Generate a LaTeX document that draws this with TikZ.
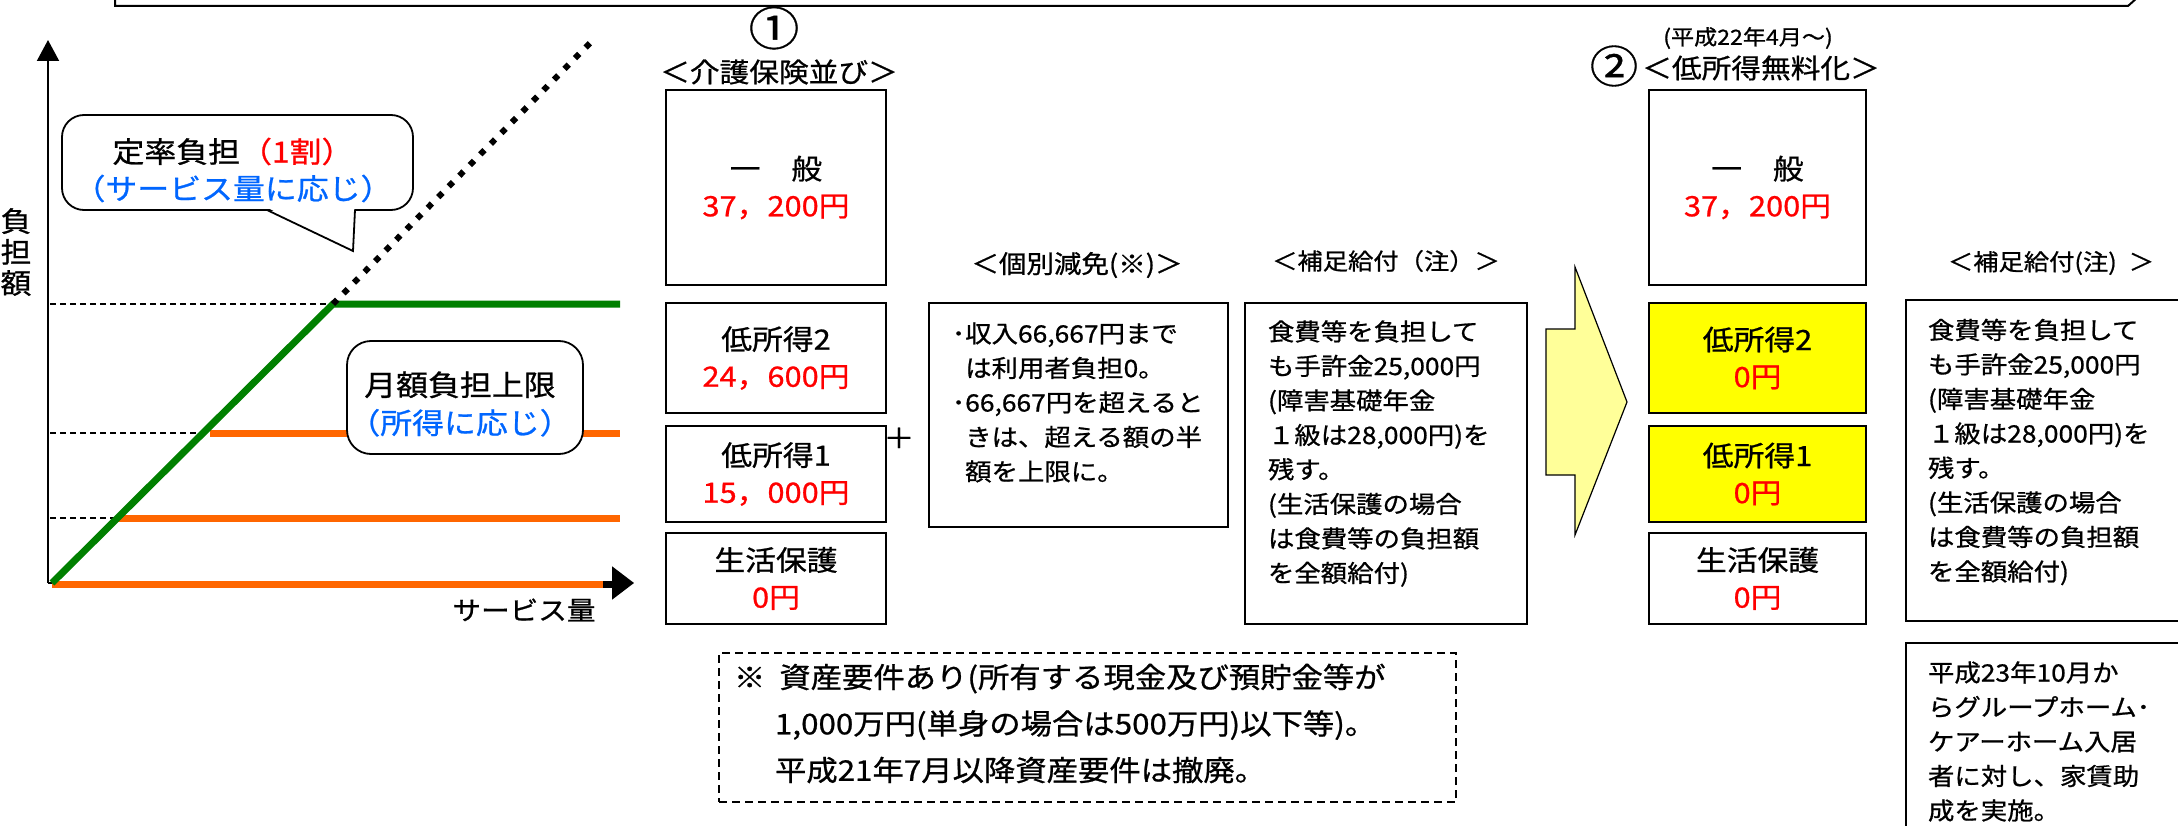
\documentclass[tikz,border=0pt]{standalone}
\usepackage{fontspec}
\setmainfont[FakeStretch=1.1, FakeBold=0.8]{Noto Sans CJK JP}
\usetikzlibrary{arrows.meta}
\definecolor{myred}{RGB}{255,0,0}
\definecolor{myblue}{RGB}{0,102,255}
\definecolor{mygreen}{RGB}{0,128,0}
\definecolor{myorange}{RGB}{255,102,0}
\definecolor{myyellow}{RGB}{255,255,0}
\definecolor{arrowyellow}{RGB}{255,255,153}
\tikzset{
  every node/.style={inner sep=0pt, outer sep=0pt},
  box/.style={draw, line width=2.5pt, align=center, font=\fontsize{28}{37}\selectfont},
  yellowbox/.style={box, fill=myyellow},
  frame/.style={draw, line width=2.5pt},
  para/.style={anchor=west, align=left, font=\fontsize{24}{34.5}\selectfont},
  head/.style={font=\fontsize{27}{30}\selectfont},
  subhead/.style={font=\fontsize{23}{28}\selectfont},
  callout/.style={draw, fill=white, line width=1.8pt},
  ctext/.style={align=center, font=\fontsize{29}{37}\selectfont},
  axis/.style={line width=2pt},
  costline/.style={line width=7pt, line cap=butt},
  guide/.style={line width=1.5pt, dash pattern=on 6pt off 4pt},
}
\begin{document}
\begin{tikzpicture}[x=1pt,y=-1pt]
\useasboundingbox (0,0) rectangle (2178,826);
\fill[white] (0,0) rectangle (2178,826);

% top frame (bottom edge only visible)
\draw[line width=2pt] (115,-3) -- (115,6) -- (2128,6) -- (2138,-3);

% ---------------- graph ----------------
\coordinate (O) at (48,583);
\coordinate (ytop) at (48,40);
\coordinate (xend) at (634,583);
\draw[axis, -{Triangle[length=21pt,width=22pt]}] (O) -- (ytop);
\draw[axis, -{Triangle[length=22pt,width=33pt]}] (O) -- (xend);
\fill (603,580.5) rectangle (612,587.5);

\coordinate (k) at (333,304);
\coordinate (a2) at (210,433);
\coordinate (a1) at (116,518);
\coordinate (dotend) at (590,43);

\draw[guide] (50,304) -- (k);
\draw[guide] (50,433) -- (a2);
\draw[guide] (50,518) -- (a1);

\draw[costline, myorange] (52,584) -- (603,584);
\draw[costline, myorange] (a1) -- (620,518);
\draw[costline, myorange] (a2) -- (620,433);
\draw[costline, mygreen, line join=miter] (52,583) -- (k) -- (620,304);
\draw[line width=6pt, dash pattern=on 6pt off 9pt, line cap=butt] (k) -- (dotend);

\node[font=\fontsize{28}{31}\selectfont, align=center] (ylab) at (16,252) {負\\担\\額};
\node[font=\fontsize{26}{30}\selectfont] (xlab) at (524,610) {サービス量};

% callout 1
\node[callout, rounded corners=22pt, minimum width=351pt, minimum height=95pt] (c1) at (237.5,162.5) {};
\fill[white] (268,208) -- (353,251) -- (354.5,208) -- cycle;
\draw[line width=1.8pt, line join=miter] (267,210) -- (353,251) -- (355,210);
\node[ctext] (c1t) at (233,170) {定率負担{\color{myred}（1割）}\\{\color{myblue}（サービス量に応じ）}};

% callout 2
\node[callout, rounded corners=24pt, minimum width=236pt, minimum height=113pt] (c2) at (465,397.5) {};
\node[ctext, font=\fontsize{29}{38}\selectfont] (c2t) at (460,404) {月額負担上限\\{\color{myblue}（所得に応じ）}};

% ---------------- column 1 ----------------
\node[font=\fontsize{46}{46}\selectfont] (n1) at (774,28) {①};
\node[head] (h1) at (779,72) {＜介護保険並び＞};
\node[box, minimum width=220pt, minimum height=195pt] (g1) at (776,187.5) {一　般\\{\color{myred}37，200円}};
\node[box, minimum width=220pt, minimum height=110pt] (l2a) at (776,358) {低所得2\\{\color{myred}24，600円}};
\node[box, minimum width=220pt, minimum height=96pt] (l1a) at (776,474) {低所得1\\{\color{myred}15，000円}};
\node[box, minimum width=220pt, minimum height=91pt] (sa) at (776,578.5) {生活保護\\{\color{myred}0円}};
\node[font=\fontsize{28}{30}\selectfont] (plus) at (899,438) {＋};

% ---------------- column 2 ----------------
\node[head, font=\fontsize{25}{30}\selectfont] (h2) at (1077,265) {＜個別減免(※)＞};
\node[frame, minimum width=299pt, minimum height=224pt] (kb) at (1078.5,415) {};
\node[para] (kt) at (952,402.5) {･収入66,667円まで\\\phantom{･}は利用者負担0。\\･66,667円を超えると\\\phantom{･}きは、超える額の半\\\phantom{･}額を上限に。};

% ---------------- column 3 ----------------
\node[subhead] (h3) at (1386,261) {＜補足給付（注）＞};
\node[frame, minimum width=282pt, minimum height=321pt] (hb1) at (1386,463.5) {};
\node[para] (ht1) at (1268,453.5) {食費等を負担して\\も手許金25,000円\\(障害基礎年金\\１級は28,000円)を\\残す。\\(生活保護の場合\\は食費等の負担額\\を全額給付)};

% note (dashed)
\node[draw, line width=1.5pt, dash pattern=on 8pt off 5pt, minimum width=737pt, minimum height=149pt] (note) at (1087.5,727.5) {};
\node[anchor=west, align=left, font=\fontsize{28.5}{46.5}\selectfont] (notet) at (734,723.5) {※\hspace{14pt}資産要件あり(所有する現金及び預貯金等が\\\hspace*{41pt}1,000万円(単身の場合は500万円)以下等)。\\\hspace*{41pt}平成21年7月以降資産要件は撤廃。};

% big arrow
\draw[fill=arrowyellow, line width=1.2pt, line join=miter] (1546,329) -- (1575,329) -- (1575,267) -- (1627,402) -- (1575,535) -- (1575,475) -- (1546,475) -- cycle;

% ---------------- column 4 ----------------
\node[font=\fontsize{21}{24}\selectfont] (date) at (1748,38) {(平成22年4月～)};
\node[font=\fontsize{44}{44}\selectfont] (n2) at (1614,66) {②};
\node[head] (h4) at (1761,68) {＜低所得無料化＞};
\node[box, minimum width=217pt, minimum height=195pt] (g2) at (1757.5,187.5) {一　般\\{\color{myred}37，200円}};
\node[yellowbox, minimum width=217pt, minimum height=110pt] (l2b) at (1757.5,358) {低所得2\\{\color{myred}0円}};
\node[yellowbox, minimum width=217pt, minimum height=96pt] (l1b) at (1757.5,474) {低所得1\\{\color{myred}0円}};
\node[box, minimum width=217pt, minimum height=91pt] (sb) at (1757.5,578.5) {生活保護\\{\color{myred}0円}};

% ---------------- column 5 ----------------
\node[subhead] (h5) at (2051,263) {＜補足給付(注)\hspace{12pt}＞};
\node[frame, minimum width=294pt, minimum height=321pt] (hb2) at (2053,460.5) {};
\node[para] (ht2) at (1928,452) {食費等を負担して\\も手許金25,000円\\(障害基礎年金\\１級は28,000円)を\\残す。\\(生活保護の場合\\は食費等の負担額\\を全額給付)};
\node[frame, minimum width=294pt, minimum height=207pt] (gh) at (2053,746.5) {};
\node[para] (ght) at (1928,741.5) {平成23年10月か\\らグループホーム･\\ケアーホーム入居\\者に対し、家賃助\\成を実施。};
\end{tikzpicture}
\end{document}
